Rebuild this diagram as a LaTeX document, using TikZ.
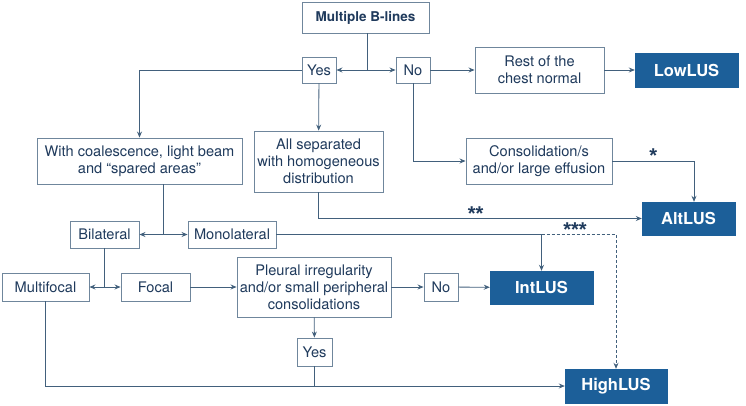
\documentclass[tikz,border=0pt]{standalone}
\usepackage{fontspec}
\setmainfont{TeX Gyre Heros}
\newfontfamily\starfont{Liberation Sans}
\usetikzlibrary{arrows.meta}

\definecolor{boxline}{HTML}{6F869C}
\definecolor{wire}{HTML}{42607C}
\definecolor{ink}{HTML}{1F3A5C}
\definecolor{lusblue}{HTML}{1C5F99}

\tikzset{
  every node/.style={font=\fontsize{14.6}{16.8}\selectfont, text=ink},
  qbox/.style={rectangle, draw=boxline, line width=0.9pt, fill=white,
    align=center, inner sep=0},
  lusbox/.style={rectangle, fill=lusblue, draw=lusblue, inner sep=0,
    minimum width=103pt, minimum height=34pt,
    font=\fontsize{16.5}{18}\selectfont\bfseries, text=white},
  link/.style={draw=wire, line width=0.8pt,
    -{Stealth[length=6pt, width=5pt, inset=2pt]}},
  wire/.style={draw=wire, line width=0.8pt},
  stars/.style={font=\fontsize{20}{20}\starfont\bfseries, inner sep=0,
    anchor=base, yshift=-1.5pt}
}

\begin{document}
\begin{tikzpicture}[x=1pt, y=-1pt]
  \useasboundingbox (0,0) rectangle (746,405);

  % question boxes
  \node[qbox, minimum width=127pt, minimum height=31pt,
    font=\fontsize{13.5}{15}\selectfont\bfseries] (blines) at (365.5,17.5) {Multiple B-lines};
  \node[qbox, minimum width=34pt, minimum height=26pt] (yesA) at (319,70) {Yes};
  \node[qbox, minimum width=34pt, minimum height=26pt] (noA) at (413,70) {No};
  \node[qbox, minimum width=129pt, minimum height=46pt] (rest) at (539.5,70) {Rest of the\\chest normal};
  \node[qbox, minimum width=205pt, minimum height=46pt] (coal) at (139.5,161) {With coalescence, light beam\\and “spared areas”};
  \node[qbox, minimum width=129pt, minimum height=61pt] (sep) at (318.5,161.5) {All separated\\with homogeneous\\distribution};
  \node[qbox, minimum width=146pt, minimum height=46pt] (cons) at (539,161) {Consolidation/s\\and/or large effusion};
  \node[qbox, minimum width=69pt, minimum height=27pt] (bilat) at (104.5,234.5) {Bilateral};
  \node[qbox, minimum width=88pt, minimum height=27pt] (monolat) at (232,234.5) {Monolateral};
  \node[qbox, minimum width=87pt, minimum height=28pt] (multi) at (45.5,287) {Multifocal};
  \node[qbox, minimum width=69pt, minimum height=28pt] (focal) at (155.5,287) {Focal};
  \node[qbox, minimum width=154pt, minimum height=60pt] (pleural) at (314,287) {Pleural irregularity\\and/or small peripheral\\consolidations};
  \node[qbox, minimum width=34pt, minimum height=28pt] (noB) at (441,287) {No};
  \node[qbox, minimum width=35pt, minimum height=28pt] (yesB) at (314.5,352) {Yes};

  % outcomes
  \node[lusbox] (lowlus) at (686.5,70) {LowLUS};
  \node[lusbox, minimum width=93pt, minimum height=33pt] (altlus) at (688.5,218.5) {AltLUS};
  \node[lusbox, minimum height=33pt] (intlus) at (541.5,287.5) {IntLUS};
  \node[lusbox, minimum width=102pt] (highlus) at (616,386) {HighLUS};

  % split points
  \coordinate (splitA) at (367,70);
  \coordinate (splitB) at (163,234.5);
  \coordinate (splitC) at (541.5,234.5);
  \coordinate (splitD) at (104.5,287);
  \coordinate (altin) at ([xshift=5.5pt]altlus.north);
  \coordinate (joinE) at (yesB |- highlus.west);

  % first split
  \draw[wire] (blines.south -| splitA) -- (splitA);
  \draw[link] (splitA) -- (yesA);
  \draw[link] (splitA) -- (noA);
  \draw[link] (noA) -- (rest);
  \draw[link] (rest) -- (lowlus);
  \draw[link] (yesA.west) -| (coal.north);
  \draw[link] (yesA) -- (sep);
  \draw[link] (noA.south) |- (cons.west);
  \draw[link] (cons.east) -| node[stars, pos=0.25]{*} (altin);
  \draw[link] (sep.south) |- node[stars, pos=0.743]{**} (altlus.west);

  % coalescence branch
  \draw[wire] (coal.south -| splitB) -- (splitB);
  \draw[link] (splitB) -- (bilat);
  \draw[link] (splitB) -- (monolat);
  \draw[wire] (monolat) -- (splitC);
  \draw[link] (splitC) -- (intlus);
  \draw[link, dashed, dash pattern=on 3pt off 2pt] (splitC) -| node[stars, pos=0.225]{***} (highlus.north);

  \draw[wire] (bilat.south) -- (splitD);
  \draw[link] (splitD) -- (multi);
  \draw[link] (splitD) -- (focal);
  \draw[link] (focal) -- (pleural);
  \draw[link] (pleural) -- (noB);
  \draw[link] (noB) -- (intlus);
  \draw[link] (pleural) -- (yesB);
  \draw[wire] (yesB) -- (joinE);
  \draw[link] (multi.south) |- (highlus.west);
\end{tikzpicture}
\end{document}
